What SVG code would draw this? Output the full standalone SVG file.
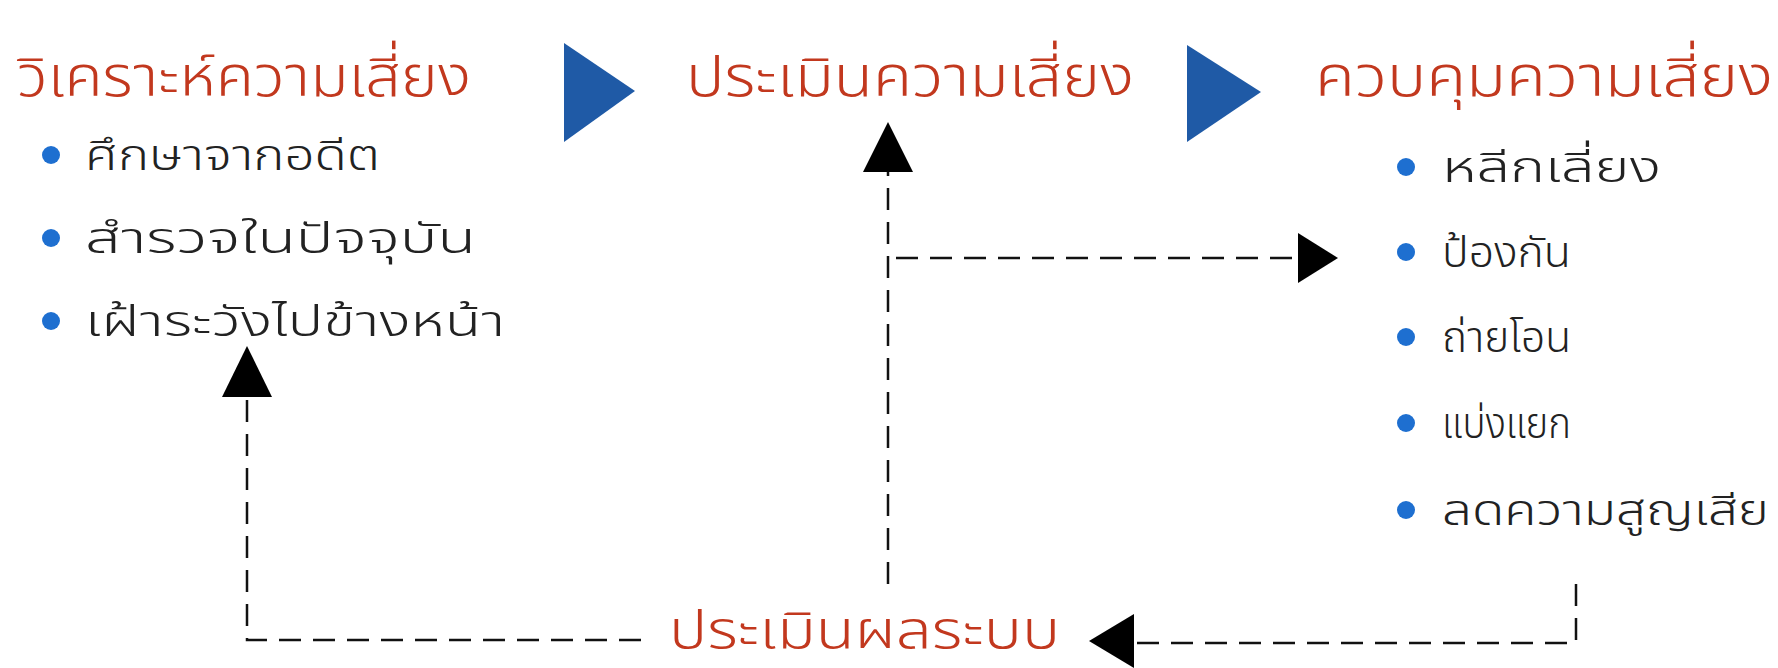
<svg xmlns="http://www.w3.org/2000/svg" width="1778" height="668" viewBox="0 0 1778 668">
<style>
.title{font-family:"Noto Sans Thai","Noto Sans",sans-serif;font-size:56px;font-weight:300;fill:#c2381e;}
.item{font-family:"Noto Sans Thai","Noto Sans",sans-serif;font-size:42px;font-weight:300;fill:#222;}
.dot{fill:#1e6fd0;}
.tri{fill:#1f5aa6;}
.dash{fill:none;stroke:#111;stroke-width:2.5;stroke-dasharray:22 12;}
.head{fill:#000;}
</style>
<rect width="1778" height="668" fill="#fff"/>
<g id="node-analyze">
<text class="title" x="17" y="96" textLength="454" lengthAdjust="spacingAndGlyphs">วิเคราะห์ความเสี่ยง</text>
<circle class="dot" cx="51" cy="155" r="9"/>
<text class="item" x="85" y="170" textLength="295" lengthAdjust="spacingAndGlyphs">ศึกษาจากอดีต</text>
<circle class="dot" cx="51" cy="238" r="9"/>
<text class="item" x="85" y="253" textLength="391" lengthAdjust="spacingAndGlyphs">สำรวจในปัจจุบัน</text>
<circle class="dot" cx="51" cy="321" r="9"/>
<text class="item" x="85" y="336" textLength="420" lengthAdjust="spacingAndGlyphs">เฝ้าระวังไปข้างหน้า</text>
</g>
<g id="step-arrow-1"><polygon class="tri" points="564,43 635,91 564,142"/></g>
<g id="node-assess">
<text class="title" x="686" y="96" textLength="448" lengthAdjust="spacingAndGlyphs">ประเมินความเสี่ยง</text>
</g>
<g id="step-arrow-2"><polygon class="tri" points="1187,45 1261,92 1187,142"/></g>
<g id="node-control">
<text class="title" x="1315" y="96" textLength="458" lengthAdjust="spacingAndGlyphs">ควบคุมความเสี่ยง</text>
<circle class="dot" cx="1406" cy="167" r="9"/>
<text class="item" x="1442" y="182" textLength="219" lengthAdjust="spacingAndGlyphs">หลีกเลี่ยง</text>
<circle class="dot" cx="1406" cy="252" r="9"/>
<text class="item" x="1442" y="267" textLength="129" lengthAdjust="spacingAndGlyphs">ป้องกัน</text>
<circle class="dot" cx="1406" cy="337" r="9"/>
<text class="item" x="1442" y="352" textLength="129" lengthAdjust="spacingAndGlyphs">ถ่ายโอน</text>
<circle class="dot" cx="1406" cy="423" r="9"/>
<text class="item" x="1442" y="438" textLength="129" lengthAdjust="spacingAndGlyphs">แบ่งแยก</text>
<circle class="dot" cx="1406" cy="510" r="9"/>
<text class="item" x="1442" y="525" textLength="327" lengthAdjust="spacingAndGlyphs">ลดความสูญเสีย</text>
</g>
<g id="node-evaluate">
<text class="title" x="669" y="648" style="font-size:52px" textLength="391" lengthAdjust="spacingAndGlyphs">ประเมินผลระบบ</text>
</g>
<g id="connectors">
<path class="dash" d="M888,584 V172"/>
<polygon class="head" points="888,122 863,172 913,172"/>
<path class="dash" d="M896,258 H1298"/>
<polygon class="head" points="1338,258 1298,233 1298,283"/>
<path class="dash" d="M641,640 H247 V397"/>
<polygon class="head" points="247,346 222,397 272,397"/>
<path class="dash" d="M1576,584 V643 H1134"/>
<polygon class="head" points="1089,641 1134,614 1134,668"/>
</g>
</svg>
